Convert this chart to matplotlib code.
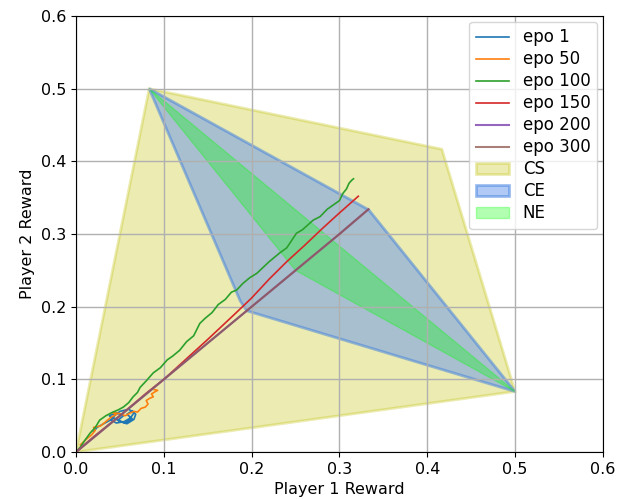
import numpy as np
import matplotlib
matplotlib.use('Agg')
import matplotlib.pyplot as plt

# 区域顶点
cs_x = [0.0, 1/12, 5/12, 0.5]
cs_y = [0.0, 0.5, 5/12, 1/12]
ce_x = [1/12, 1/3, 0.5, 7/36, 0.187]
ce_y = [0.5, 1/3, 1/12, 7/36, 0.208]
ne_x = [1/12, 0.25, 0.5]
ne_y = [0.5, 0.25, 1/12]

# 训练轨迹
epo1_x = [0.020, 0.024, 0.030, 0.036, 0.042, 0.038, 0.046, 0.054, 0.048, 0.056,
          0.064, 0.058, 0.064, 0.068, 0.066, 0.058, 0.050, 0.042, 0.050, 0.060,
          0.066, 0.062, 0.055, 0.046, 0.040]
epo1_y = [0.028, 0.034, 0.038, 0.042, 0.046, 0.050, 0.054, 0.050, 0.044, 0.040,
          0.046, 0.052, 0.057, 0.052, 0.045, 0.039, 0.042, 0.048, 0.056, 0.059,
          0.054, 0.047, 0.042, 0.040, 0.044]
epo50_x = [0.005, 0.012, 0.018, 0.022, 0.020, 0.028, 0.034, 0.040, 0.046, 0.042,
           0.050, 0.056, 0.062, 0.066, 0.070, 0.074, 0.079, 0.082, 0.080, 0.084,
           0.088, 0.086, 0.090, 0.093, 0.089]
epo50_y = [0.010, 0.018, 0.024, 0.030, 0.034, 0.036, 0.042, 0.048, 0.052, 0.054,
           0.053, 0.050, 0.054, 0.056, 0.055, 0.060, 0.062, 0.066, 0.071, 0.074,
           0.076, 0.080, 0.083, 0.085, 0.086]
epo100_x = [0.0, 0.005, 0.010, 0.016, 0.022, 0.027, 0.034, 0.042, 0.048, 0.054,
            0.060, 0.065, 0.070, 0.073, 0.080, 0.088, 0.096, 0.104, 0.110, 0.118,
            0.126, 0.134, 0.141, 0.147, 0.155, 0.162, 0.170, 0.177, 0.183, 0.190,
            0.198, 0.206, 0.213, 0.220, 0.232, 0.240, 0.251, 0.258, 0.270, 0.278,
            0.286, 0.293, 0.300, 0.304, 0.308, 0.311, 0.314, 0.316]
epo100_y = [0.0, 0.007, 0.016, 0.026, 0.034, 0.044, 0.050, 0.055, 0.058, 0.062,
            0.068, 0.076, 0.082, 0.089, 0.098, 0.109, 0.116, 0.127, 0.132, 0.140,
            0.152, 0.160, 0.177, 0.184, 0.192, 0.203, 0.210, 0.220, 0.223, 0.232,
            0.240, 0.246, 0.254, 0.262, 0.274, 0.281, 0.301, 0.306, 0.319, 0.324,
            0.334, 0.340, 0.346, 0.356, 0.362, 0.370, 0.374, 0.376]
epo150_x = [0.0, 0.02, 0.05, 0.08, 0.10, 0.13, 0.15, 0.18, 0.20, 0.22, 0.24, 0.26,
            0.28, 0.30, 0.3215]
epo150_y = [0.0, 0.021, 0.050, 0.081, 0.100, 0.133, 0.155, 0.189, 0.212, 0.238, 0.262,
            0.284, 0.307, 0.329, 0.352]
epo200_x = [0.0, 0.10, 0.20, 0.30, 0.333]
epo200_y = [0.0, 0.10, 0.20, 0.30, 0.334]
epo300_x = [0.0, 0.10, 0.20, 0.30, 0.333]
epo300_y = [0.0, 0.10, 0.20, 0.30, 0.334]

plt.rcParams['font.size'] = 11.5

fig = plt.figure(figsize=(6.28, 4.99), dpi=100)
ax = fig.add_axes([0.121, 0.094, 0.839, 0.874])

ax.fill(cs_x, cs_y, facecolor='y', edgecolor='y', alpha=0.3, linewidth=2, label='CS')
ax.fill(ce_x, ce_y, facecolor='cornflowerblue', edgecolor='#3d7de0', alpha=0.5,
        linewidth=2, label='CE')
ax.fill(ne_x, ne_y, facecolor='lime', edgecolor='lime', alpha=0.3, linewidth=1, label='NE')

ax.plot(epo1_x, epo1_y, color='C0', lw=1.2, label='epo 1')
ax.plot(epo50_x, epo50_y, color='C1', lw=1.2, label='epo 50')
ax.plot(epo100_x, epo100_y, color='C2', lw=1.2, label='epo 100')
ax.plot(epo150_x, epo150_y, color='C3', lw=1.2, label='epo 150')
ax.plot(epo200_x, epo200_y, color='C4', lw=1.5, label='epo 200')
ax.plot(epo300_x, epo300_y, color='C5', lw=1.5, alpha=0.75, label='epo 300')

ax.set_xlim(0, 0.6)
ax.set_ylim(0, 0.6)
ax.grid(True, color='#b0b0b0', linewidth=1)
ax.set_xlabel('Player 1 Reward', fontsize=11.5)
ax.set_ylabel('Player 2 Reward', fontsize=11.5)
ax.tick_params(labelsize=11.5)

h, l = ax.get_legend_handles_labels()
order = [3, 4, 5, 6, 7, 8, 0, 1, 2]
ax.legend([h[i] for i in order], [l[i] for i in order], loc='upper right',
          fontsize=12, labelspacing=0.24, borderaxespad=0.35)

fig.savefig('out.png', dpi=100)
